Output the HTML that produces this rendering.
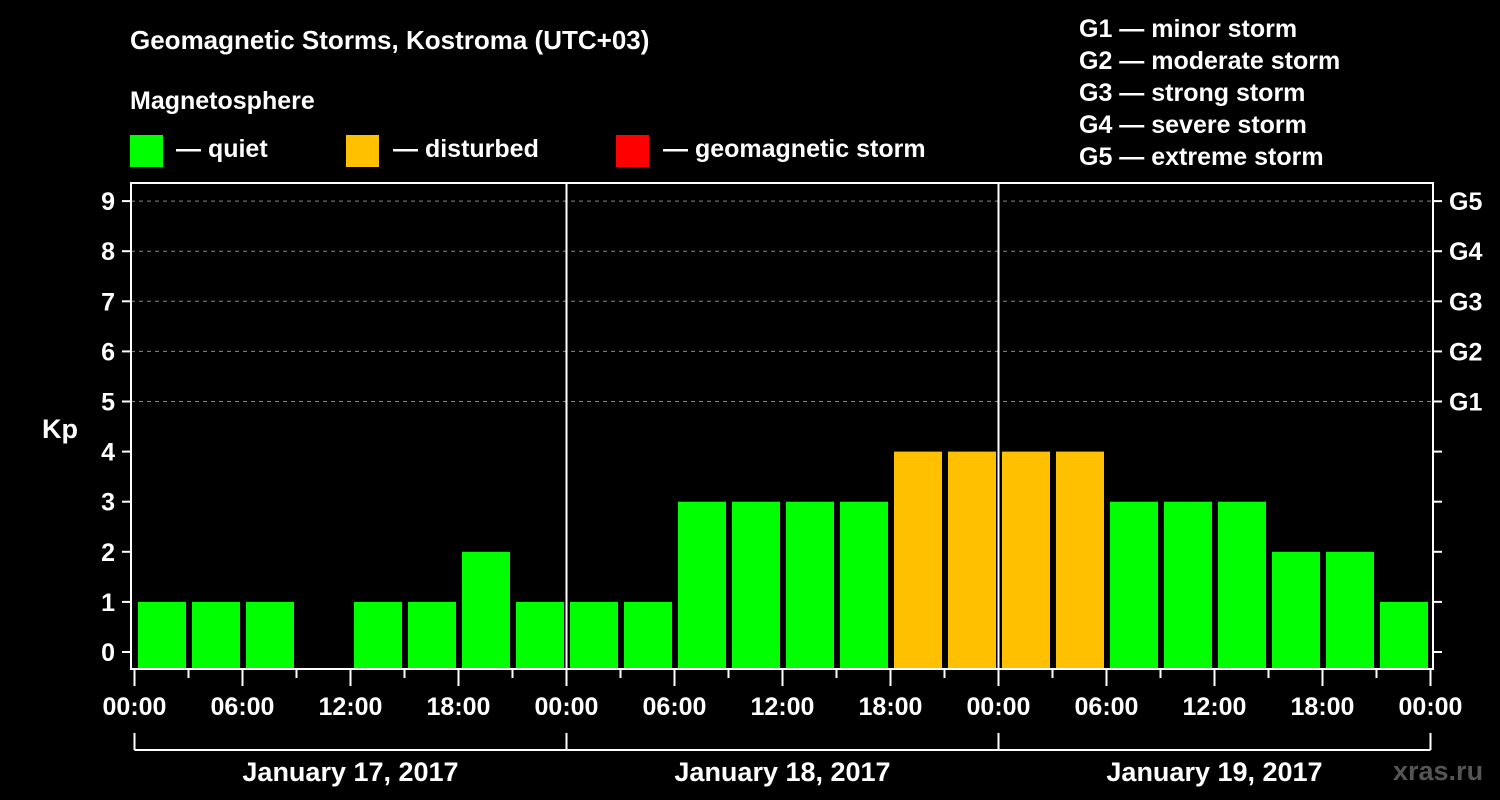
<!DOCTYPE html>
<html><head><meta charset="utf-8"><style>
html,body{margin:0;padding:0;background:#000;}
svg{display:block;font-family:"Liberation Sans",Arial,sans-serif;font-weight:bold;}
</style></head><body>
<svg id="chart" width="1500" height="800" viewBox="0 0 1500 800">
<rect x="0" y="0" width="1500" height="800" fill="#000"/>
<text x="130" y="49" fill="#fff" font-size="26">Geomagnetic Storms, Kostroma (UTC+03)</text>
<text x="130" y="109" fill="#fff" font-size="25">Magnetosphere</text>
<g><rect x="130" y="135" width="33" height="32" fill="#00ff00"/><text x="176" y="157" fill="#fff" font-size="25">— quiet</text></g>
<g><rect x="346" y="135" width="33" height="32" fill="#ffc000"/><text x="393" y="157" fill="#fff" font-size="25">— disturbed</text></g>
<g><rect x="616" y="135" width="33" height="32" fill="#ff0000"/><text x="663" y="157" fill="#fff" font-size="25">— geomagnetic storm</text></g>
<g fill="#fff" font-size="25">
<text x="1079" y="37">G1 — minor storm</text>
<text x="1079" y="69">G2 — moderate storm</text>
<text x="1079" y="101">G3 — strong storm</text>
<text x="1079" y="133">G4 — severe storm</text>
<text x="1079" y="165">G5 — extreme storm</text>
</g>
<text x="42" y="438" fill="#fff" font-size="27">Kp</text>
<text x="1393" y="780" fill="#555" font-size="27">xras.ru</text>
<g id="grid"></g>
<g id="bars"></g>
<g id="axes"></g>
</svg>
<script>
const kpValues = [1,1,1,0,1,1,2,1, 1,1,3,3,3,3,4,4, 4,4,3,3,3,2,2,1];
const dayLabels = ["January 17, 2017","January 18, 2017","January 19, 2017"];
const hourLabels = ["00:00","06:00","12:00","18:00"];
const yTicks = [0,1,2,3,4,5,6,7,8,9];
const gLabels = ["G1","G2","G3","G4","G5"];

const NS="http://www.w3.org/2000/svg";
const X0=134.5, PXH=18, Y0=652, PXK=50.1;
const L=131, R=1433, T=183, B=669;
const xs=h=>X0+h*PXH;
const ys=k=>Y0-k*PXK;
function mk(tag,attrs,parent,text){const e=document.createElementNS(NS,tag);for(const k in attrs)e.setAttribute(k,attrs[k]);if(text!==undefined)e.textContent=text;document.getElementById(parent).appendChild(e);return e;}

// grid lines (Kp 5..9)
for(let k=5;k<=9;k++){
  const g=mk('line',{x1:L,x2:R,y1:ys(k),y2:ys(k),stroke:'#888','stroke-dasharray':'4,4','stroke-width':1},'grid');
  
  
}
// bars
kpValues.forEach((v,i)=>{
  if(v<=0)return;
  const col=v>=5?'#ff0000':(v>=4?'#ffc000':'#00ff00');
  const r=mk('rect',{x:xs(i*3)+3.5,y:ys(v),width:48,height:B-ys(v),fill:col},'bars');
  
  
});
// frame and day separators
const fr=mk('rect',{x:L,y:T,width:R-L,height:B-T,fill:'none',stroke:'#fff','stroke-width':2},'axes');


for(let d=1;d<dayLabels.length;d++){
  const s=mk('line',{x1:xs(d*24),x2:xs(d*24),y1:T,y2:B,stroke:'#fff','stroke-width':2},'axes');
  
  
}
// y ticks
yTicks.forEach(k=>{
  mk('line',{x1:L-9,x2:L,y1:ys(k),y2:ys(k),stroke:'#fff','stroke-width':2},'axes');
  mk('line',{x1:R,x2:R+9,y1:ys(k),y2:ys(k),stroke:'#fff','stroke-width':2},'axes');
  const t=mk('text',{x:L-16,y:ys(k)+9,fill:'#fff','font-size':25,'text-anchor':'end'},'axes',String(k));
  
  
});
gLabels.forEach((g,i)=>{
  const t=mk('text',{x:R+16,y:ys(5+i)+9,fill:'#fff','font-size':25},'axes',g);
  
  
});
// x ticks
const nH=dayLabels.length*24;
for(let h=0;h<=nH;h+=3){
  const major=h%6===0;
  mk('line',{x1:xs(h),x2:xs(h),y1:B,y2:major?686:678,stroke:'#fff','stroke-width':2},'axes');
  if(major){
    const t=mk('text',{x:xs(h),y:715,fill:'#fff','font-size':25,'text-anchor':'middle'},'axes',hourLabels[(h/6)%4]);
    
    
  }
}
// day brackets
mk('line',{x1:xs(0),x2:xs(nH),y1:750,y2:750,stroke:'#fff','stroke-width':2},'axes');
for(let d=0;d<=dayLabels.length;d++){
  mk('line',{x1:xs(d*24),x2:xs(d*24),y1:733,y2:750,stroke:'#fff','stroke-width':2},'axes');
}
dayLabels.forEach((lab,d)=>{
  const t=mk('text',{x:xs(d*24+12),y:781,fill:'#fff','font-size':27,'text-anchor':'middle'},'axes',lab);
  
  
});
</script>
</body></html>
